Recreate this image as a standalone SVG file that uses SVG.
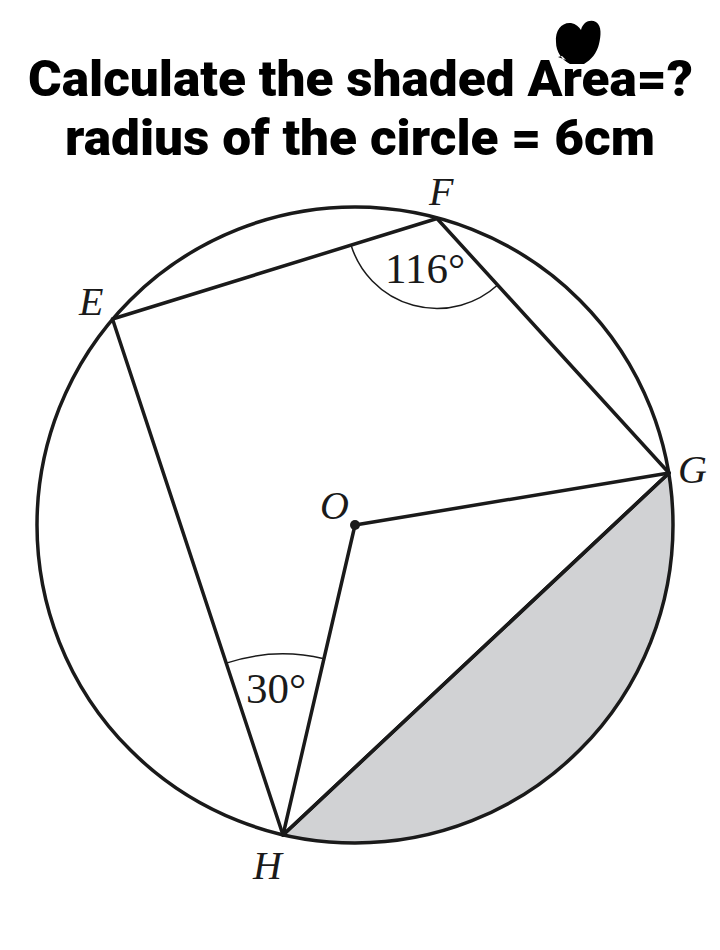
<svg xmlns="http://www.w3.org/2000/svg" width="720" height="950" viewBox="0 0 720 950">
<style>
.title{font-family:Roboto,"Liberation Sans",sans-serif;font-weight:900;font-size:50px;fill:#000}
.lbl{font-family:"Liberation Serif","DejaVu Serif",serif;font-style:italic;font-size:40px;fill:#1a1a1a}
.ang{font-family:"Liberation Serif","DejaVu Serif",serif;font-size:43px;fill:#1a1a1a}
.thick{fill:none;stroke:#1a1a1a;stroke-width:3.5;stroke-linejoin:round;stroke-linecap:round}
.thin{fill:none;stroke:#1a1a1a;stroke-width:1.5}
</style>
<rect width="720" height="950" fill="#fff"/>
<g id="title">
<text class="title" x="28" y="96" textLength="665" lengthAdjust="spacingAndGlyphs">Calculate the shaded Area=?</text>
<text class="title" x="65" y="155" textLength="590" lengthAdjust="spacingAndGlyphs">radius of the circle = 6cm</text>
<path d="M570,64 C562,60 556,52 556,42 C555,30 562,22 571,23 C576,24 579,27 581,30 C583,22 590,19 596,22 C602,26 601,36 599,44 C597,53 591,60 584,64 Z M562,56 L558,57 L566,60 Z" fill="#000"/>
</g>
<g id="shaded">
<path d="M283,835 L669,473 A318,318 0 0 1 283,835 Z" fill="#d1d2d4"/>
</g>
<g id="circle">
<circle cx="355" cy="525" r="318" class="thick"/>
</g>
<g id="connectors">
<polygon points="112.5,319 437,218.5 669,473 283,835" class="thick"/>
<polyline points="669,473 355,525 283,835" class="thick"/>
<line x1="283" y1="835" x2="669" y2="473" class="thick"/>
<path d="M351,245 A90,90 0 0 0 497.6,285" class="thin"/>
<path d="M226.2,663.1 A181,181 0 0 1 323.9,658.7" class="thin"/>
</g>
<g id="O">
<circle cx="355" cy="525" r="5" fill="#1a1a1a"/>
<text class="lbl" x="320" y="519">O</text>
</g>
<g id="E"><text class="lbl" x="79" y="315">E</text></g>
<g id="F"><text class="lbl" x="429" y="205">F</text></g>
<g id="G"><text class="lbl" x="678" y="483">G</text></g>
<g id="H"><text class="lbl" x="253" y="879">H</text></g>
<g id="angleF"><text class="ang" x="385" y="283">116°</text></g>
<g id="angleH"><text class="ang" x="246" y="703">30°</text></g>
</svg>
